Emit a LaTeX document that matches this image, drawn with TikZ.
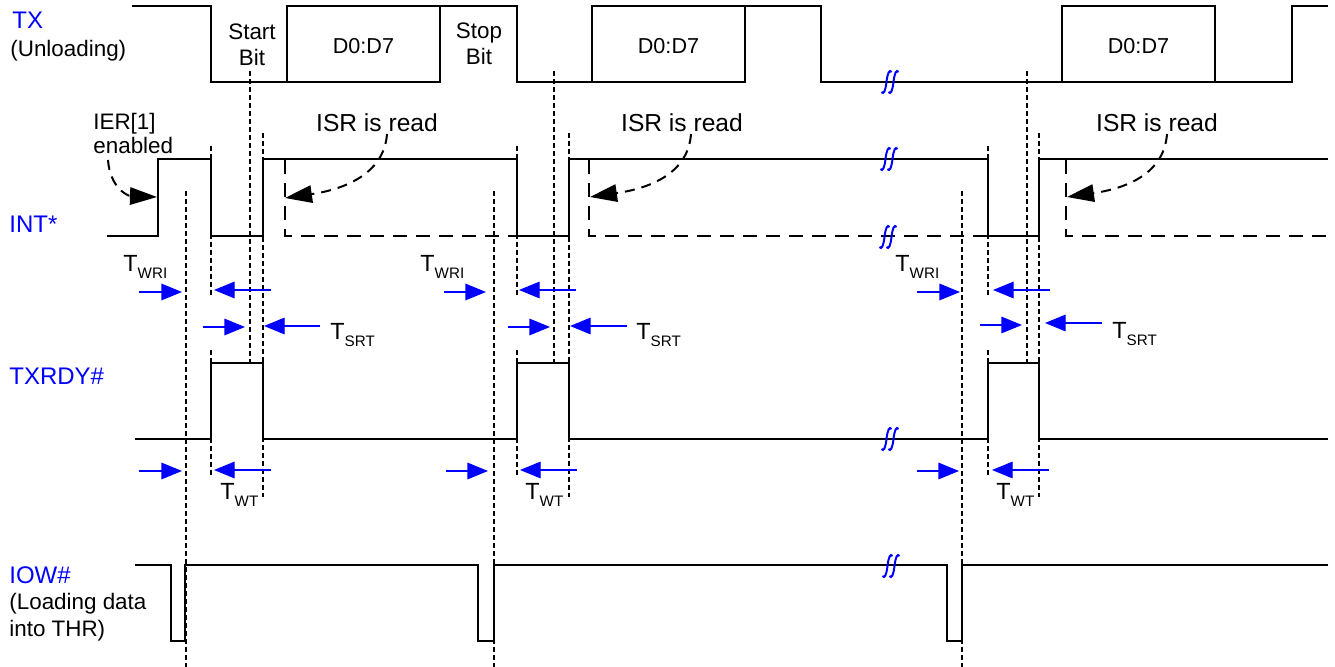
\documentclass[tikz,border=0pt]{standalone}
\usepackage{fontspec}
\setmainfont{Liberation Sans}
\usetikzlibrary{arrows.meta}
\definecolor{sigblue}{RGB}{0,0,255}
\newcommand\fsig{\fontsize{12}{14}\selectfont}
\newcommand\fnorm{\fontsize{11.2}{13}\selectfont}
\newcommand\fisr{\fontsize{12.3}{14}\selectfont}
\newcommand\fdata{\fontsize{10.8}{13}\selectfont}
\newcommand\ftbig{\fontsize{11.7}{14}\selectfont}
\newcommand\ftsub{\fontsize{7.6}{9}\selectfont}
\newcommand\tlab[1]{\ftbig T\raisebox{-3.5pt}{\ftsub #1}}
\begin{document}
\begin{tikzpicture}[x=0.5pt,y=-0.5pt,
  sig/.style={line width=1pt, line join=miter},
  guide/.style={line width=0.75pt, dash pattern=on 2.5pt off 1.5pt},
  ldash/.style={line width=1pt, dash pattern=on 7pt off 4.5pt},
  callout/.style={line width=1pt, dash pattern=on 5pt off 3.5pt, -{Triangle[length=13.5pt,width=8.7pt]}},
  tarrow/.style={line width=0.6pt, sigblue, -{Triangle[length=10.3pt,width=8.3pt]}},
  txt/.style={inner sep=0pt, font=\fnorm},
  sname/.style={inner sep=0pt, anchor=base west, text=sigblue, font=\fsig},
  tl/.style={inner sep=0pt, anchor=base west},
  brk/.style={sigblue, line width=1pt},
]
\useasboundingbox (0,0) rectangle (1335,667);

% ---------- signal names ----------
\node[sname] (ntx) at (12,29) {TX};
\node[txt, anchor=base west] (ntxu) at (10,57) {(Unloading)};
\node[sname] (nint) at (9,233) {INT*};
\node[sname] (ntxrdy) at (9,385) {TXRDY\#};
\node[sname] (niow) at (9,584) {IOW\#};
\node[txt, anchor=base west] (niow1) at (9,610) {(Loading data};
\node[txt, anchor=base west] (niow2) at (9,637) {into THR)};

% ---------- TX waveform ----------
\draw[sig] (132,6) -- (211,6) -- (211,82) -- (287,82);
\draw[sig] (287,6) rectangle (440,82);
\draw[sig] (440,6) -- (517,6) -- (517,82) -- (592,82);
\draw[sig] (592,6) rectangle (745,82);
\draw[sig] (745,6) -- (821,6) -- (821,82) -- (1062,82);
\draw[sig] (1062,6) rectangle (1215,82);
\draw[sig] (1215,82) -- (1292,82) -- (1292,6) -- (1328,6);

\node[txt, anchor=base] (st1) at (252,40) {Start};
\node[txt, anchor=base] (st2) at (252,66) {Bit};
\node[txt, anchor=base] (sp1) at (479,39) {Stop};
\node[txt, anchor=base] (sp2) at (479,65) {Bit};
\node[inner sep=0pt, font=\fdata, anchor=base] (d1) at (363.5,54) {D0:D7};
\node[inner sep=0pt, font=\fdata, anchor=base] (d2) at (668.5,54) {D0:D7};
\node[inner sep=0pt, font=\fdata, anchor=base] (d3) at (1138.5,54) {D0:D7};

% ---------- INT* waveform ----------
\draw[sig] (107,236) -- (158,236) -- (158,159) -- (211,159) -- (211,236) -- (263,236)
  -- (263,159) -- (517,159) -- (517,236) -- (569,236) -- (569,159) -- (988,159)
  -- (988,236) -- (1039,236) -- (1039,159) -- (1328,159);
\draw[ldash] (285,160) -- (285,236) -- (517,236);
\draw[ldash] (589,160) -- (589,236) -- (988,236);
\draw[ldash] (1066,160) -- (1066,236) -- (1328,236);

% ---------- TXRDY# waveform ----------
\draw[sig] (135,439) -- (211,439) -- (211,363) -- (263,363) -- (263,439) -- (517,439)
  -- (517,363) -- (569,363) -- (569,439) -- (988,439) -- (988,363) -- (1039,363)
  -- (1039,439) -- (1328,439);

% ---------- IOW# waveform ----------
\draw[sig] (135,565) -- (171,565) -- (171,641) -- (185,641) -- (185,565) -- (478,565)
  -- (478,641) -- (494,641) -- (494,565) -- (947,565) -- (947,641) -- (962,641)
  -- (962,565) -- (1328,565);

% ---------- guide lines ----------
\foreach \a/\b/\c/\d in {186/211/250/263, 494/517/554/569, 962/988/1027/1039} {
  \draw[guide] (\a,191) -- (\a,667);
  \draw[guide] (\b,146) -- (\b,297);
  \draw[guide] (\b,350) -- (\b,477);
  \draw[guide] (\c,71) -- (\c,363);
  \draw[guide] (\d,133) -- (\d,497);
}

% ---------- break marks ----------
\foreach \bx/\by in {890/82, 889/159, 888/237, 890/439, 891/566} {
  \foreach \dx in {-3.5,3.5} {
    \draw[brk] ({\bx+\dx+5},{\by-10}) .. controls ({\bx+\dx+3},{\by-13}) and ({\bx+\dx+1},{\by-9}) .. ({\bx+\dx},{\by})
      .. controls ({\bx+\dx-1},{\by+9}) and ({\bx+\dx-3},{\by+13}) .. ({\bx+\dx-5},{\by+10});
  }
}

% ---------- callouts ----------
\node[txt, anchor=base west] (ier1) at (93,130) {IER[1]};
\node[txt, anchor=base west] (ier2) at (93,154) {enabled};
\coordinate (ierS) at (108,160);
\coordinate (ierE) at (157,197);
\draw[callout] (ierS) .. controls (110,188) and (128,196) .. (ierE);

\node[inner sep=0pt, font=\fisr, anchor=base] (isr1) at (377,132) {ISR is read};
\node[inner sep=0pt, font=\fisr, anchor=base] (isr2) at (682,132) {ISR is read};
\node[inner sep=0pt, font=\fisr, anchor=base] (isr3) at (1157,132) {ISR is read};
\coordinate (e1) at (285,198);
\coordinate (e2) at (590,197);
\coordinate (e3) at (1067,197);
\draw[callout] (387,134) .. controls (384,176) and (340,190) .. (e1);
\draw[callout] (691,134) .. controls (688,176) and (645,189) .. (e2);
\draw[callout] (1167,134) .. controls (1164,176) and (1122,189) .. (e3);

% ---------- timing arrows ----------
\draw[tarrow] (139,292) -- (182,292);
\draw[tarrow] (271,290) -- (214,290);
\draw[tarrow] (203,327) -- (245,327);
\draw[tarrow] (320,326) -- (264,326);
\draw[tarrow] (139,471) -- (182,471);
\draw[tarrow] (271,470) -- (214,470);

\draw[tarrow] (444,292) -- (486,292);
\draw[tarrow] (576,290) -- (519,290);
\draw[tarrow] (508,327) -- (550,327);
\draw[tarrow] (627,326) -- (570,326);
\draw[tarrow] (446,471) -- (488,471);
\draw[tarrow] (577,470) -- (520,470);

\draw[tarrow] (917,292) -- (960,292);
\draw[tarrow] (1050,290) -- (993,290);
\draw[tarrow] (980,325) -- (1022,325);
\draw[tarrow] (1102,323) -- (1045,323);
\draw[tarrow] (917,471) -- (959,471);
\draw[tarrow] (1049,470) -- (992,470);

\node[tl] (twri1) at (123,272) {\tlab{WRI}};
\node[tl] (twri2) at (420,272) {\tlab{WRI}};
\node[tl] (twri3) at (895,272) {\tlab{WRI}};
\node[tl] (tsrt1) at (330,340) {\tlab{SRT}};
\node[tl] (tsrt2) at (636,340) {\tlab{SRT}};
\node[tl] (tsrt3) at (1112,339) {\tlab{SRT}};
\node[tl] (twt1) at (220,500) {\tlab{WT}};
\node[tl] (twt2) at (525,500) {\tlab{WT}};
\node[tl] (twt3) at (996,500) {\tlab{WT}};
\end{tikzpicture}
\end{document}
